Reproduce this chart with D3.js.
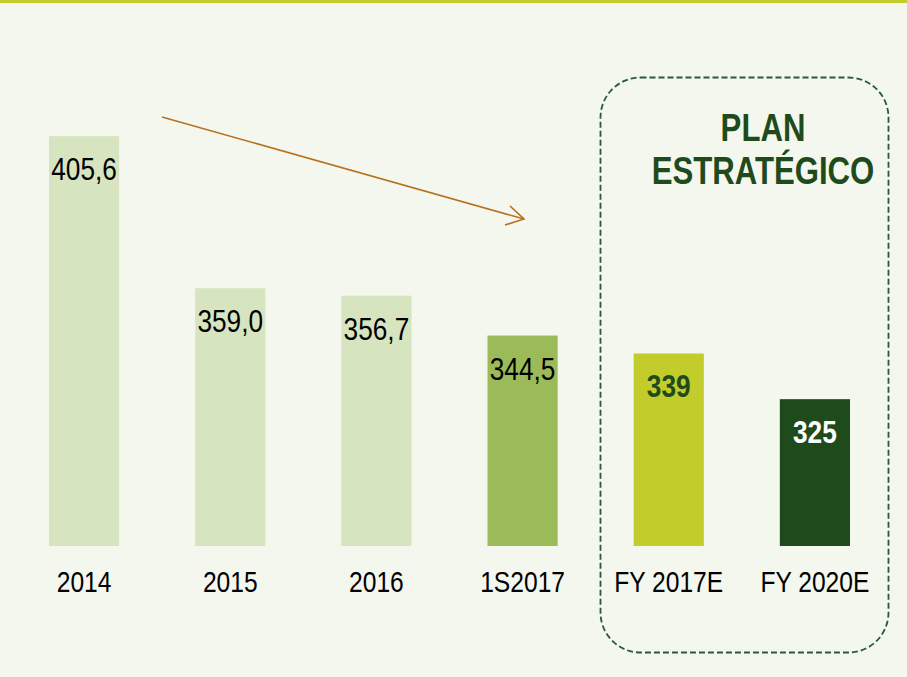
<!DOCTYPE html>
<html>
<head>
<meta charset="utf-8">
<script src="https://cdn.jsdelivr.net/npm/d3@7"></script>
<style>
  html, body { margin: 0; padding: 0; background: #f4f7ee; }
  #container { width: 907px; height: 677px; }
  text { font-family: "Liberation Sans", Arial, sans-serif; }
</style>
</head>
<body>
<div id="container"></div>
<script>
/* DATA */
const categories = ["2014", "2015", "2016", "1S2017", "FY 2017E", "FY 2020E"];
const values = [405.6, 359.0, 356.7, 344.5, 339, 325];
const valueLabels = ["405,6", "359,0", "356,7", "344,5", "339", "325"];
const barColors = ["#d7e4c0", "#d7e4c0", "#d7e4c0", "#9bbb59", "#c2cc2a", "#1f4b1c"];
const labelColors = ["#000", "#000", "#000", "#000", "#1f4b1c", "#fff"];
const labelWeights = ["normal", "normal", "normal", "normal", "bold", "bold"];

/* CONSTANTS */
const width = 907, height = 677,
baseline = 546,
narrow = 0.82; // no narrow font installed, squeeze text horizontally

const svg = d3.select("#container")
  .append("svg")
  .attr("width", width)
  .attr("height", height)

svg.append("rect")
  .attr("width", width)
  .attr("height", height)
  .attr("fill", "#f4f7ee")

// top rule
svg.append("rect")
  .attr("width", width)
  .attr("height", 3)
  .attr("fill", "#c3cd2b")

/* SCALES */
const xScale = d3.scaleBand()
  .domain(categories)
  .range([11, 888])
  .paddingInner(0.52)
  .paddingOuter(0.26)

// axis does not start at zero
const yScale = d3.scaleLinear()
  .domain([280, 420])
  .range([baseline, baseline - 140 * 3.263])

const data = categories.map((c, i) => ({cat: c, val: values[i], label: valueLabels[i], i: i}))
const cx = d => xScale(d.cat) + xScale.bandwidth() / 2

//Bars
svg.selectAll(".bar")
  .data(data)
  .join("rect")
  .attr("class", "bar")
  .attr("x", d => xScale(d.cat))
  .attr("y", d => yScale(d.val))
  .attr("width", xScale.bandwidth())
  .attr("height", d => baseline - yScale(d.val))
  .attr("fill", d => barColors[d.i])

//Value labels inside bars
svg.selectAll(".val")
  .data(data)
  .join("text")
  .attr("class", "val")
  .attr("transform", d => `translate(${cx(d)},${yScale(d.val) + 44}) scale(${narrow},1)`)
  .attr("text-anchor", "middle")
  .style("font-size", "32px")
  .style("font-weight", d => labelWeights[d.i])
  .style("fill", d => labelColors[d.i])
  .text(d => d.label)

//Category labels
svg.selectAll(".cat")
  .data(data)
  .join("text")
  .attr("class", "cat")
  .attr("transform", d => `translate(${cx(d)},592) scale(${narrow},1)`)
  .attr("text-anchor", "middle")
  .style("font-size", "30px")
  .style("fill", "#000")
  .text(d => d.cat)

//Trend arrow
const arrowColor = "#b8701f"
svg.append("line")
  .attr("x1", 162).attr("y1", 117)
  .attr("x2", 524).attr("y2", 219)
  .attr("stroke", arrowColor)
  .attr("stroke-width", 1.6)
svg.append("path")
  .attr("d", "M510,206 L524,219 L505,225")
  .attr("fill", "none")
  .attr("stroke", arrowColor)
  .attr("stroke-width", 1.6)

//Plan box
svg.append("rect")
  .attr("x", 600.5).attr("y", 77.5)
  .attr("width", 288).attr("height", 575)
  .attr("rx", 40).attr("ry", 40)
  .attr("fill", "none")
  .attr("stroke", "#2a5a34")
  .attr("stroke-width", 1.8)
  .attr("stroke-dasharray", "6,3")

const titleLines = [["PLAN", 141], ["ESTRATÉGICO", 184]]
svg.selectAll(".title")
  .data(titleLines)
  .join("text")
  .attr("class", "title")
  .attr("transform", d => `translate(763,${d[1]}) scale(${narrow},1)`)
  .attr("text-anchor", "middle")
  .style("font-size", "38px")
  .style("font-weight", "bold")
  .style("fill", "#1f4b1c")
  .text(d => d[0])
</script>
</body>
</html>
